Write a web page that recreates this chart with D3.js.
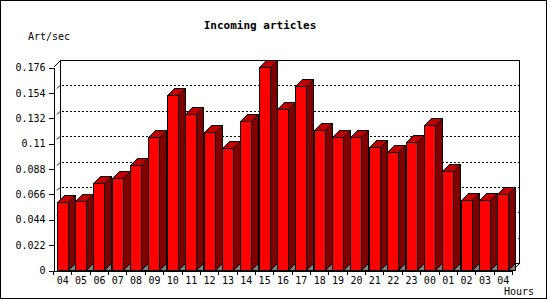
<!DOCTYPE html>
<html>
<head>
<meta charset="utf-8">
<script src="https://cdn.jsdelivr.net/npm/d3@7"></script>
<style>
  body { margin: 0; background: #fff; }
  svg { display: block; }
  text { font-family: "DejaVu Sans Mono", monospace; font-size: 10px; fill: #000; }
  .title { font-weight: bold; font-size: 11px; }
</style>
</head>
<body>
<div id="chart"></div>
<script>
const hours = ["04","05","06","07","08","09","10","11","12","13","14","15","16","17","18","19","20","21","22","23","00","01","02","03","04"];
const artPerSec = [0.0587, 0.0596, 0.0752, 0.0795, 0.0908, 0.1150, 0.1515, 0.1350, 0.1194, 0.1055,
                   0.1289, 0.1757, 0.1393, 0.1593, 0.1211, 0.1150, 0.1150, 0.1064, 0.1020, 0.1107,
                   0.1255, 0.0856, 0.0604, 0.0604, 0.0656];
const yTicks = [0, 0.022, 0.044, 0.066, 0.088, 0.11, 0.132, 0.154, 0.176];
const yTickLabels = ["0", "0.022", "0.044", "0.066", "0.088", "0.11", "0.132", "0.154", "0.176"];

const width = 550, height = 300;
const plotL = 53, plotR = 512, plotB = 270, plotT = 67;
const depth = 7;      // 3d offset
const barW = 11;

const svg = d3.select("#chart").append("svg")
    .attr("width", width)
    .attr("height", height)
    .attr("shape-rendering", "crispEdges");

// outer frame
svg.append("rect")
    .attr("x", 0.5).attr("y", 0.5)
    .attr("width", 546).attr("height", 298)
    .attr("fill", "#fff").attr("stroke", "#000");

const x = d3.scaleBand().domain(d3.range(hours.length)).range([plotL, plotR]);
const y = d3.scaleLinear().domain([0, 0.176]).range([plotB, plotT]);

// back plane
svg.append("rect")
    .attr("x", plotL + depth + 0.5).attr("y", plotT - depth + 0.5)
    .attr("width", plotR - plotL).attr("height", plotB - plotT)
    .attr("fill", "#fff").attr("stroke", "#000");

// dotted grid on the back plane
const grid = svg.append("g");
yTicks.filter(t => t > 0 && t < 0.176).forEach(t => {
    const gy = Math.round(y(t)) - depth + 0.5;
    grid.append("line")
        .attr("x1", plotL + depth + 2).attr("x2", plotR + depth)
        .attr("y1", gy).attr("y2", gy)
        .attr("stroke", "#000").attr("stroke-dasharray", "2,2");
    grid.append("line")
        .attr("x1", plotL + depth - 3).attr("y1", gy + 3)
        .attr("x2", plotL + depth).attr("y2", gy)
        .attr("stroke", "#000").attr("shape-rendering", "auto");
});

// corner diagonals
svg.append("line")
    .attr("x1", plotL + 0.5).attr("y1", plotT + 0.5)
    .attr("x2", plotL + depth + 0.5).attr("y2", plotT - depth + 0.5)
    .attr("stroke", "#000");
svg.append("line")
    .attr("x1", plotR + 0.5).attr("y1", plotB + 0.5)
    .attr("x2", plotR + depth + 0.5).attr("y2", plotB - depth + 0.5)
    .attr("stroke", "#000");

// bars
const bars = svg.append("g").attr("stroke", "#000");
artPerSec.forEach((v, i) => {
    const x1 = Math.round(x(i) + (x.bandwidth() - barW) / 2) + 0.5;
    const x2 = x1 + barW;
    const yt = Math.round(y(v)) + 0.5;
    const y0 = plotB + 0.5;
    const pts = a => a.map(p => p.join(",")).join(" ");
    bars.append("polygon")
        .attr("points", pts([[x2, y0], [x2 + depth, y0 - depth], [x2 + depth, y0]]))
        .attr("fill", "#808080");
    bars.append("polygon")
        .attr("points", pts([[x2, yt], [x2 + depth, yt - depth], [x2 + depth, y0 - depth], [x2, y0]]))
        .attr("fill", "#800000");
    bars.append("polygon")
        .attr("points", pts([[x1, yt], [x2, yt], [x2 + depth, yt - depth], [x1 + depth, yt - depth]]))
        .attr("fill", "#c00000");
    bars.append("rect")
        .attr("x", x1).attr("y", yt)
        .attr("width", barW).attr("height", y0 - yt)
        .attr("fill", "#ff0000");
});

// y axis
const yAxis = svg.append("g")
    .attr("transform", `translate(${plotL + 0.5},0.5)`)
    .call(d3.axisLeft(y).tickValues(yTicks)
        .tickFormat((d, i) => yTickLabels[i])
        .tickSize(5).tickPadding(3).tickSizeOuter(0));
yAxis.select(".domain").attr("stroke", "#000");
yAxis.selectAll("text").attr("font-family", null).attr("font-size", null);

// x axis: labels centred, ticks at category boundaries
const xAxis = svg.append("g")
    .attr("transform", `translate(0.5,${plotB + 0.5})`)
    .call(d3.axisBottom(x).tickFormat(i => hours[i]).tickSize(0).tickPadding(6).tickSizeOuter(0));
xAxis.select(".domain").attr("stroke", "#000");
xAxis.selectAll("text").attr("font-family", null).attr("font-size", null);
xAxis.selectAll(".boundary")
    .data(d3.range(hours.length + 1))
    .join("line")
    .attr("class", "boundary")
    .attr("x1", i => Math.round(plotL + i * x.step()))
    .attr("x2", i => Math.round(plotL + i * x.step()))
    .attr("y1", 0).attr("y2", 4)
    .attr("stroke", "#000");

// texts
svg.append("text").attr("class", "title")
    .attr("x", 260).attr("y", 29).attr("text-anchor", "middle")
    .text("Incoming articles");
svg.append("text")
    .attr("x", 28).attr("y", 40)
    .text("Art/sec");
svg.append("text")
    .attr("x", 534).attr("y", 295).attr("text-anchor", "end")
    .text("Hours");
</script>
</body>
</html>
